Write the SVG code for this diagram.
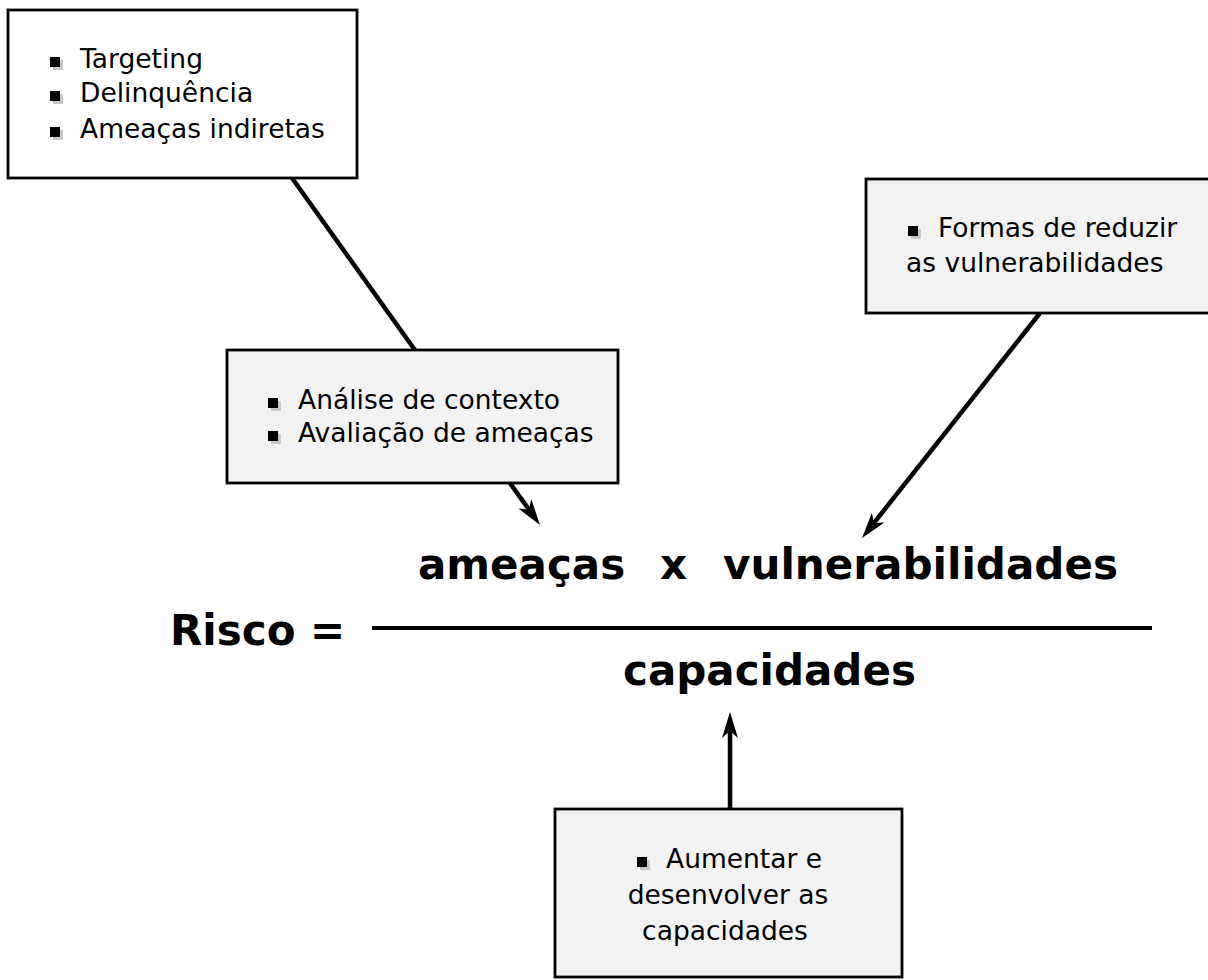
<svg xmlns="http://www.w3.org/2000/svg" width="1208" height="980" viewBox="0 0 1208 980">
  <style>
    .box { stroke: #000; stroke-width: 2.8; }
    .white { fill: #ffffff; }
    .gray { fill: #f2f2f2; }
    .txt { font-family: "DejaVu Sans", Verdana, sans-serif; font-size: 26.5px; fill: #000; }
    .big { font-family: "DejaVu Sans", Verdana, sans-serif; font-size: 42px; font-weight: bold; fill: #000; }
    .conn { stroke: #000; stroke-width: 4.5; fill: none; }
    .bshadow { fill: #c8c8c8; }
    .bfill { fill: #000; }
  </style>
  <defs>
    <marker id="arrow" markerUnits="userSpaceOnUse" viewBox="0 0 26 18" refX="13" refY="9" markerWidth="26" markerHeight="18" orient="auto">
      <path d="M0,1 L26,9 L0,17 L7,9 z" fill="#000"/>
    </marker>
  </defs>
  <rect width="1208" height="980" fill="#ffffff"/>

  <g id="connectors">
    <line class="conn" x1="292" y1="178" x2="532.4" y2="514.4" marker-end="url(#arrow)"/>
    <line class="conn" x1="1040" y1="313" x2="870.1" y2="527.8" marker-end="url(#arrow)"/>
    <line class="conn" x1="730" y1="809" x2="730" y2="725" marker-end="url(#arrow)"/>
  </g>

  <g id="box-ameacas-lista">
    <rect class="box white" x="8" y="10" width="349" height="168"/>
    <rect class="bshadow" x="53" y="60" width="10" height="10"/><rect class="bfill" x="50" y="57" width="10" height="10"/>
    <rect class="bshadow" x="53" y="94" width="10" height="10"/><rect class="bfill" x="50" y="91" width="10" height="10"/>
    <rect class="bshadow" x="53" y="130" width="10" height="10"/><rect class="bfill" x="50" y="127" width="10" height="10"/>
    <text class="txt" x="80" y="68">Targeting</text>
    <text class="txt" x="80" y="102">Delinquência</text>
    <text class="txt" x="80" y="138">Ameaças indiretas</text>
  </g>

  <g id="box-analise">
    <rect class="box gray" x="227" y="350" width="391" height="133"/>
    <rect class="bshadow" x="271" y="401" width="10" height="10"/><rect class="bfill" x="268" y="398" width="10" height="10"/>
    <rect class="bshadow" x="271" y="434" width="10" height="10"/><rect class="bfill" x="268" y="431" width="10" height="10"/>
    <text class="txt" x="298" y="409">Análise de contexto</text>
    <text class="txt" x="298" y="442">Avaliação de ameaças</text>
  </g>

  <g id="box-vulnerabilidades">
    <rect class="box gray" x="866" y="179" width="346" height="134"/>
    <rect class="bshadow" x="911" y="229" width="10" height="10"/><rect class="bfill" x="908" y="226" width="10" height="10"/>
    <text class="txt" x="938" y="237">Formas de reduzir</text>
    <text class="txt" x="906" y="272">as vulnerabilidades</text>
  </g>

  <g id="box-capacidades">
    <rect class="box gray" x="555" y="809" width="347" height="168"/>
    <rect class="bshadow" x="640" y="860" width="10" height="10"/><rect class="bfill" x="637" y="857" width="10" height="10"/>
    <text class="txt" x="666" y="868">Aumentar e</text>
    <text class="txt" x="728" y="904" text-anchor="middle">desenvolver as</text>
    <text class="txt" x="725" y="940" text-anchor="middle">capacidades</text>
  </g>

  <g id="formula">
    <text class="big" x="170" y="645">Risco =</text>
    <line x1="372" y1="628" x2="1152" y2="628" stroke="#000" stroke-width="4"/>
    <text class="big" x="418" y="579">ameaças</text>
    <text class="big" x="660" y="579">x</text>
    <text class="big" x="723" y="579" textLength="395" lengthAdjust="spacingAndGlyphs">vulnerabilidades</text>
    <text class="big" x="623" y="685">capacidades</text>
  </g>
</svg>
